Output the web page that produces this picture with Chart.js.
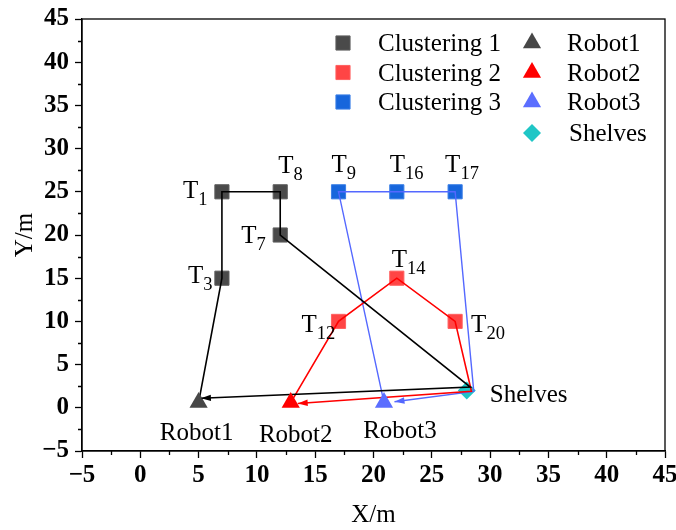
<!DOCTYPE html>
<html>
<head>
<meta charset="utf-8">
<script src="https://cdn.jsdelivr.net/npm/chart.js@4/dist/chart.umd.min.js"></script>
<style>
  html, body { margin: 0; padding: 0; background: #fff; }
  canvas { display: block; }
</style>
</head>
<body>
<canvas id="c" width="676" height="530"></canvas>
<script>
// ---- task points, grouped by cluster ----
const cluster1X = [7, 12, 12, 7];
const cluster1Y = [25, 25, 20, 15];
const cluster1Ids = ['1', '8', '7', '3'];

const cluster2X = [17, 22, 27];
const cluster2Y = [10, 15, 10];
const cluster2Ids = ['12', '14', '20'];

const cluster3X = [17, 22, 27];
const cluster3Y = [25, 25, 25];
const cluster3Ids = ['9', '16', '17'];

// ---- robots and shelves ----
const robotNames = ['Robot1', 'Robot2', 'Robot3'];
const robotX = [5, 12.9, 20.9];
const robotY = [0.6, 0.6, 0.6];
const shelvesX = [28];
const shelvesY = [2];

// ---- routes: start -> tasks -> shelves -> back to start ----
const route1X = [5, 7, 7, 12, 12, 28.3, 5.2];
const route1Y = [0.6, 15, 25, 25, 20, 2.4, 1.1];
const route2X = [12.9, 17, 22, 27, 28.4, 13.5];
const route2Y = [0.6, 10, 15, 10, 1.9, 0.5];
const route3X = [20.9, 17, 22, 27, 28.6, 21.8];
const route3Y = [0.6, 25, 25, 25, 1.9, 0.7];

// ---- axis ticks ----
const majorTicks = [-5, 0, 5, 10, 15, 20, 25, 30, 35, 40, 45];
const minorTicks = [-2.5, 2.5, 7.5, 12.5, 17.5, 22.5, 27.5, 32.5, 37.5, 42.5];

const FONT = "'Liberation Serif', 'Times New Roman', serif";
const TEXT_SIZE = 25;

const pts = (xs, ys) => xs.map((x, i) => ({ x, y: ys[i] }));

// label placement (pixel offsets from the marker)
const taskLabelOffset = {
  '1': [-39, 6.5], '8': [-2, -19], '7': [-39, 8], '3': [-34, 4.5],
  '12': [-37, 11], '14': [-5, -11.5], '20': [16, 11],
  '9': [-7, -20], '16': [-7, -20], '17': [-10, -20]
};
const robotLabelOffset = [[-2, 37.5], [5, 39], [16, 35.5]];
const shelvesLabelOffset = [23, 11];

const datasets = [
  // routes (drawn above the task squares)
  { label: 'route1', data: pts(route1X, route1Y), showLine: true, borderColor: '#000000', borderWidth: 1.6,
    pointRadius: 0, order: 1, arrow: true },
  { label: 'route2', data: pts(route2X, route2Y), showLine: true, borderColor: '#ff0000', borderWidth: 1.6,
    pointRadius: 0, order: 1, arrow: true },
  { label: 'route3', data: pts(route3X, route3Y), showLine: true, borderColor: '#5468ff', borderWidth: 1.4,
    pointRadius: 0, order: 1, arrow: true },
  // task clusters
  { label: 'Clustering 1', data: pts(cluster1X, cluster1Y), ids: cluster1Ids, pointStyle: 'rect', pointRadius: 10,
    backgroundColor: '#4a4a4a', borderColor: '#5e5e5e', borderWidth: 1, order: 2, col: 0, row: 0 },
  { label: 'Clustering 2', data: pts(cluster2X, cluster2Y), ids: cluster2Ids, pointStyle: 'rect', pointRadius: 10,
    backgroundColor: '#ff4545', borderColor: '#ff6060', borderWidth: 1, order: 2, col: 0, row: 1 },
  { label: 'Clustering 3', data: pts(cluster3X, cluster3Y), ids: cluster3Ids, pointStyle: 'rect', pointRadius: 10,
    backgroundColor: '#1766dc', borderColor: '#3a7fe6', borderWidth: 1, order: 2, col: 0, row: 2 },
  // robots
  { label: 'Robot1', data: pts([robotX[0]], [robotY[0]]), pointStyle: 'triangle', pointRadius: 10.5,
    backgroundColor: '#474747', borderColor: '#474747', borderWidth: 0, order: 0, col: 1, row: 0, robot: 0 },
  { label: 'Robot2', data: pts([robotX[1]], [robotY[1]]), pointStyle: 'triangle', pointRadius: 10.5,
    backgroundColor: '#ff0000', borderColor: '#ff0000', borderWidth: 0, order: 0, col: 1, row: 1, robot: 1 },
  { label: 'Robot3', data: pts([robotX[2]], [robotY[2]]), pointStyle: 'triangle', pointRadius: 10.5,
    backgroundColor: '#5b6eff', borderColor: '#5b6eff', borderWidth: 0, order: 0, col: 1, row: 2, robot: 2 },
  // shelves
  { label: 'Shelves', data: pts(shelvesX, shelvesY), pointStyle: 'rectRot', pointRadius: 9,
    backgroundColor: '#1fc6c6', borderColor: '#1fc6c6', borderWidth: 0, order: 3, col: 1, row: 3 }
];

// arrowheads at the end of each route
const arrowPlugin = {
  id: 'arrowHeads',
  afterDatasetsDraw(chart) {
    const ctx = chart.ctx;
    chart.data.datasets.forEach((ds, i) => {
      if (!ds.arrow) return;
      const meta = chart.getDatasetMeta(i);
      const n = meta.data.length;
      const a = meta.data[n - 2], b = meta.data[n - 1];
      const ang = Math.atan2(b.y - a.y, b.x - a.x);
      const len = 10, half = 3.2;
      ctx.save();
      ctx.translate(b.x, b.y);
      ctx.rotate(ang);
      ctx.fillStyle = ds.borderColor;
      ctx.beginPath();
      ctx.moveTo(0, 0);
      ctx.lineTo(-len, -half);
      ctx.lineTo(-len, half);
      ctx.closePath();
      ctx.fill();
      ctx.restore();
    });
  }
};

// T_i labels, robot names and the shelves name
const labelPlugin = {
  id: 'pointLabels',
  afterDatasetsDraw(chart) {
    const ctx = chart.ctx;
    ctx.save();
    ctx.fillStyle = '#000';
    ctx.textBaseline = 'alphabetic';
    chart.data.datasets.forEach((ds, i) => {
      const meta = chart.getDatasetMeta(i);
      if (ds.ids) {
        ds.ids.forEach((id, k) => {
          const p = meta.data[k];
          const [dx, dy] = taskLabelOffset[id];
          ctx.textAlign = 'left';
          ctx.font = TEXT_SIZE + 'px ' + FONT;
          const x0 = p.x + dx, y0 = p.y + dy;
          ctx.fillText('T', x0, y0);
          const w = ctx.measureText('T').width;
          ctx.font = '18.5px ' + FONT;
          ctx.fillText(id, x0 + w, y0 + 7);
        });
      } else if (ds.robot !== undefined) {
        const p = meta.data[0];
        const [dx, dy] = robotLabelOffset[ds.robot];
        ctx.textAlign = 'center';
        ctx.font = TEXT_SIZE + 'px ' + FONT;
        ctx.fillText(robotNames[ds.robot], p.x + dx, p.y + dy);
      } else if (ds.label === 'Shelves') {
        const p = meta.data[0];
        ctx.textAlign = 'left';
        ctx.font = TEXT_SIZE + 'px ' + FONT;
        ctx.fillText(ds.label, p.x + shelvesLabelOffset[0], p.y + shelvesLabelOffset[1]);
      }
    });
    ctx.restore();
  }
};

// two-column legend in the upper right
const legendPlugin = {
  id: 'twoColLegend',
  afterDraw(chart) {
    const ctx = chart.ctx;
    const colMarkerX = [343, 532];
    const colTextX = [378, 567];
    const rowY = [43, 72.5, 102, 133];
    ctx.save();
    chart.data.datasets.forEach(ds => {
      if (ds.col === undefined) return;
      const x = colMarkerX[ds.col], y = rowY[ds.row];
      ctx.fillStyle = ds.backgroundColor;
      ctx.strokeStyle = ds.borderColor;
      ctx.lineWidth = ds.borderWidth;
      Chart.helpers.drawPoint(ctx, {
        pointStyle: ds.pointStyle, radius: ds.pointRadius, rotation: 0, borderWidth: ds.borderWidth
      }, x, y);
      ctx.fillStyle = '#000';
      ctx.font = TEXT_SIZE + 'px ' + FONT;
      ctx.textAlign = 'left';
      ctx.textBaseline = 'alphabetic';
      ctx.fillText(ds.label, colTextX[ds.col] + (ds.label === 'Shelves' ? 2 : 0), y + 8);
    });
    ctx.restore();
  }
};

// frame around the plot area plus the minor ticks
const framePlugin = {
  id: 'frameAndMinor',
  afterDraw(chart) {
    const { ctx, chartArea: a, scales } = chart;
    ctx.save();
    ctx.strokeStyle = '#000';
    ctx.lineWidth = 1.3;
    ctx.strokeRect(a.left, a.top, a.right - a.left, a.bottom - a.top);
    ctx.beginPath();
    minorTicks.forEach(v => {
      const x = Math.round(scales.x.getPixelForValue(v)) + 0.5;
      ctx.moveTo(x, a.bottom); ctx.lineTo(x, a.bottom + 4);
      const y = Math.round(scales.y.getPixelForValue(v)) + 0.5;
      ctx.moveTo(a.left, y); ctx.lineTo(a.left - 4, y);
    });
    ctx.stroke();
    ctx.restore();
  }
};

const fmt = v => (v < 0 ? '\u2212' + Math.abs(v) : String(v));

const axisCommon = {
  type: 'linear',
  min: majorTicks[0],
  max: majorTicks[majorTicks.length - 1],
  afterBuildTicks: s => { s.ticks = majorTicks.map(v => ({ value: v })); },
  grid: { drawOnChartArea: false, tickLength: 7, tickColor: '#000', tickWidth: 1.3 },
  border: { display: true, color: '#000', width: 1.3 }
};

new Chart(document.getElementById('c'), {
  type: 'scatter',
  data: { datasets },
  options: {
    responsive: false,
    animation: false,
    devicePixelRatio: 1,
    layout: { padding: { left: 0, top: 19, right: 11, bottom: 0 } },
    plugins: { legend: { display: false }, tooltip: { enabled: false } },
    scales: {
      x: Object.assign({}, axisCommon, {
        position: 'bottom',
        ticks: { color: '#000', padding: 3, font: { family: FONT, size: 25, weight: 'bold' }, callback: fmt, maxRotation: 0 },
        title: { display: true, text: 'X/m', color: '#000', font: { family: FONT, size: TEXT_SIZE }, padding: { top: 0, bottom: 0 } },
        afterFit: s => { s.height = 79; s.paddingLeft = 0; s.paddingRight = 0; }
      }),
      y: Object.assign({}, axisCommon, {
        position: 'left',
        ticks: { color: '#000', padding: 6, font: { family: FONT, size: 25, weight: 'bold' }, callback: fmt },
        title: { display: true, text: 'Y/m', color: '#000', font: { family: FONT, size: TEXT_SIZE }, padding: { top: 10, bottom: 0 } },
        afterFit: s => { s.width = 82; s.paddingTop = 0; s.paddingBottom = 0; }
      })
    }
  },
  plugins: [arrowPlugin, labelPlugin, legendPlugin, framePlugin]
});
</script>
</body>
</html>
